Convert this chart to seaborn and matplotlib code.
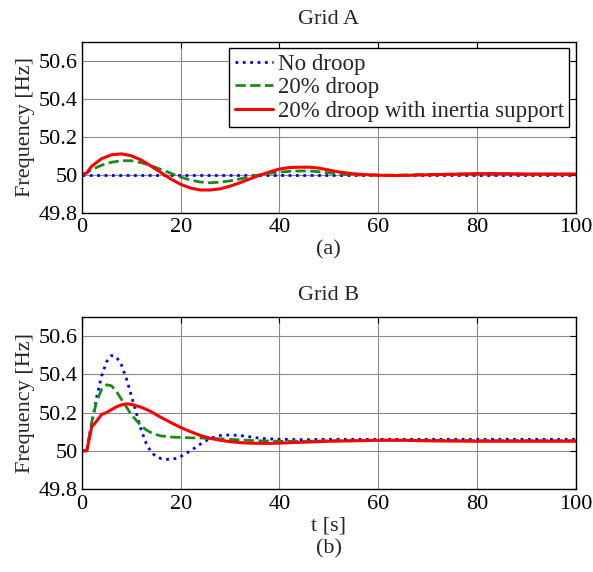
import matplotlib
matplotlib.use('Agg')
import matplotlib.pyplot as plt
import seaborn as sns

# Grid A: frequency response
tA = [0, 1, 2, 4, 6, 8, 10, 12, 14, 16, 18, 20, 22, 24, 26, 28, 30, 32, 34, 36, 38,
      40, 42, 44, 46, 48, 50, 52, 55, 58, 61, 64, 67, 70, 75, 80, 85, 90, 95, 100]
redA = [50.0, 50.01, 50.045, 50.085, 50.105, 50.11, 50.1, 50.078, 50.046, 50.012, 49.978,
        49.95, 49.93, 49.92, 49.92, 49.926, 49.94, 49.958, 49.978, 49.998, 50.015,
        50.03, 50.038, 50.04, 50.04, 50.035, 50.025, 50.015, 50.005, 50.0, 49.997,
        49.996, 49.998, 50.0, 50.003, 50.006, 50.006, 50.004, 50.004, 50.004]
greenA = [50.0, 50.01, 50.028, 50.05, 50.066, 50.074, 50.074, 50.064, 50.048, 50.028,
          50.008, 49.988, 49.972, 49.962, 49.958, 49.961, 49.968, 49.978, 49.99, 50.0,
          50.008, 50.014, 50.018, 50.02, 50.02, 50.016, 50.01, 50.005, 50.0, 49.998,
          49.998, 49.998, 50.0, 50.002, 50.003, 50.004, 50.004, 50.003, 50.003, 50.003]
tA_blue = [0, 100]
blueA = [50.0, 50.0]

# Grid B
tB_blue = [0, 1, 2, 3, 4, 5, 6, 7, 8, 9, 10, 11, 12, 13, 14, 15, 16, 17, 18, 19, 20,
           21, 22, 24, 26, 28, 30, 32, 34, 36, 38, 40, 45, 50, 60, 70, 80, 90, 100]
blueB = [50.0, 50.0, 50.14, 50.28, 50.39, 50.465, 50.498, 50.49, 50.45, 50.38, 50.29,
         50.2, 50.11, 50.04, 49.995, 49.97, 49.96, 49.956, 49.955, 49.96, 49.97,
         49.985, 50.0, 50.035, 50.065, 50.08, 50.083, 50.08, 50.073, 50.066, 50.062,
         50.06, 50.058, 50.06, 50.06, 50.06, 50.06, 50.06, 50.06]
tB_green = [0, 1, 2, 3, 4, 5, 6, 7, 8, 9, 10, 11, 12, 13, 14, 15, 16, 18, 20, 22, 25,
            30, 35, 40, 45, 50, 60, 70, 80, 90, 100]
greenB = [50.0, 50.0, 50.15, 50.26, 50.32, 50.345, 50.34, 50.31, 50.27, 50.23, 50.19,
          50.16, 50.13, 50.11, 50.095, 50.085, 50.078, 50.072, 50.07, 50.068, 50.066,
          50.06, 50.053, 50.05, 50.05, 50.052, 50.055, 50.055, 50.053, 50.053, 50.053]
tB_red = [0, 1, 2, 3, 4, 5, 6, 7, 8, 9, 10, 12, 14, 16, 18, 20, 22, 24, 26, 28, 30, 32,
          34, 36, 38, 40, 45, 50, 55, 60, 65, 70, 80, 90, 100]
redB = [50.0, 50.0, 50.125, 50.155, 50.19, 50.2, 50.215, 50.23, 50.24, 50.245, 50.243,
        50.228, 50.205, 50.175, 50.148, 50.122, 50.1, 50.08, 50.065, 50.055, 50.048, 50.043,
        50.04, 50.039, 50.039, 50.04, 50.045, 50.05, 50.052, 50.055, 50.055, 50.052,
        50.05, 50.05, 50.05]

labels = ['No droop', '20% droop', '20% droop with inertia support']
xticks = [0, 20, 40, 60, 80, 100]
yticks = [49.8, 50, 50.2, 50.4, 50.6]
ytick_labels = ['49.8', '50', '50.2', '50.4', '50.6']

sns.set_style('white')
plt.rcParams['font.family'] = ['Liberation Serif', 'DejaVu Serif']
plt.rcParams['font.size'] = 16

fig = plt.figure(figsize=(5.93, 5.72), dpi=100)
ax1 = fig.add_axes([0.138, 0.628, 0.833, 0.299])
ax2 = fig.add_axes([0.138, 0.145, 0.833, 0.301])


def style_axes(ax, title, xlabel):
    ax.set_xlim(0, 100)
    ax.set_ylim(49.8, 50.7)
    ax.set_xticks(xticks)
    ax.set_yticks(yticks)
    ax.set_yticklabels(ytick_labels)
    ax.grid(True, color='#8c8c8c', linewidth=0.8)
    ax.tick_params(direction='in', top=True, right=True, length=4, width=0.8,
                   labelsize=16, colors='black')
    ax.tick_params(axis='x', pad=4)
    ax.tick_params(axis='y', pad=3)
    for s in ax.spines.values():
        s.set_color('black')
        s.set_linewidth(1.0)
    ax.set_title(title, fontsize=16, pad=12.5)
    ax.set_xlabel(xlabel, fontsize=16, labelpad=2, linespacing=1.25)
    ax.set_ylabel('Frequency [Hz]', fontsize=16, labelpad=3)


sns.lineplot(x=tA_blue, y=blueA, ax=ax1, color='blue', linestyle=':', linewidth=2, label=labels[0])
sns.lineplot(x=tA, y=greenA, ax=ax1, color='#1a8a1a', linestyle='--', linewidth=2, label=labels[1])
sns.lineplot(x=tA, y=redA, ax=ax1, color='red', linestyle='-', linewidth=2.2, label=labels[2])
style_axes(ax1, 'Grid A', '(a)')
leg = ax1.legend(loc='upper right', fancybox=False, edgecolor='black', framealpha=1,
                 fontsize=16.5, handlelength=1.65, borderaxespad=0.28, borderpad=0.25,
                 labelspacing=0.1, handletextpad=0.2)
leg.get_frame().set_linewidth(1.0)

sns.lineplot(x=tB_blue, y=blueB, ax=ax2, color='blue', linestyle=':', linewidth=2, legend=False)
sns.lineplot(x=tB_green, y=greenB, ax=ax2, color='#1a8a1a', linestyle='--', linewidth=2, legend=False)
sns.lineplot(x=tB_red, y=redB, ax=ax2, color='red', linestyle='-', linewidth=2.2, legend=False)
style_axes(ax2, 'Grid B', 't [s]\n(b)')

fig.savefig('out.png', dpi=100)
